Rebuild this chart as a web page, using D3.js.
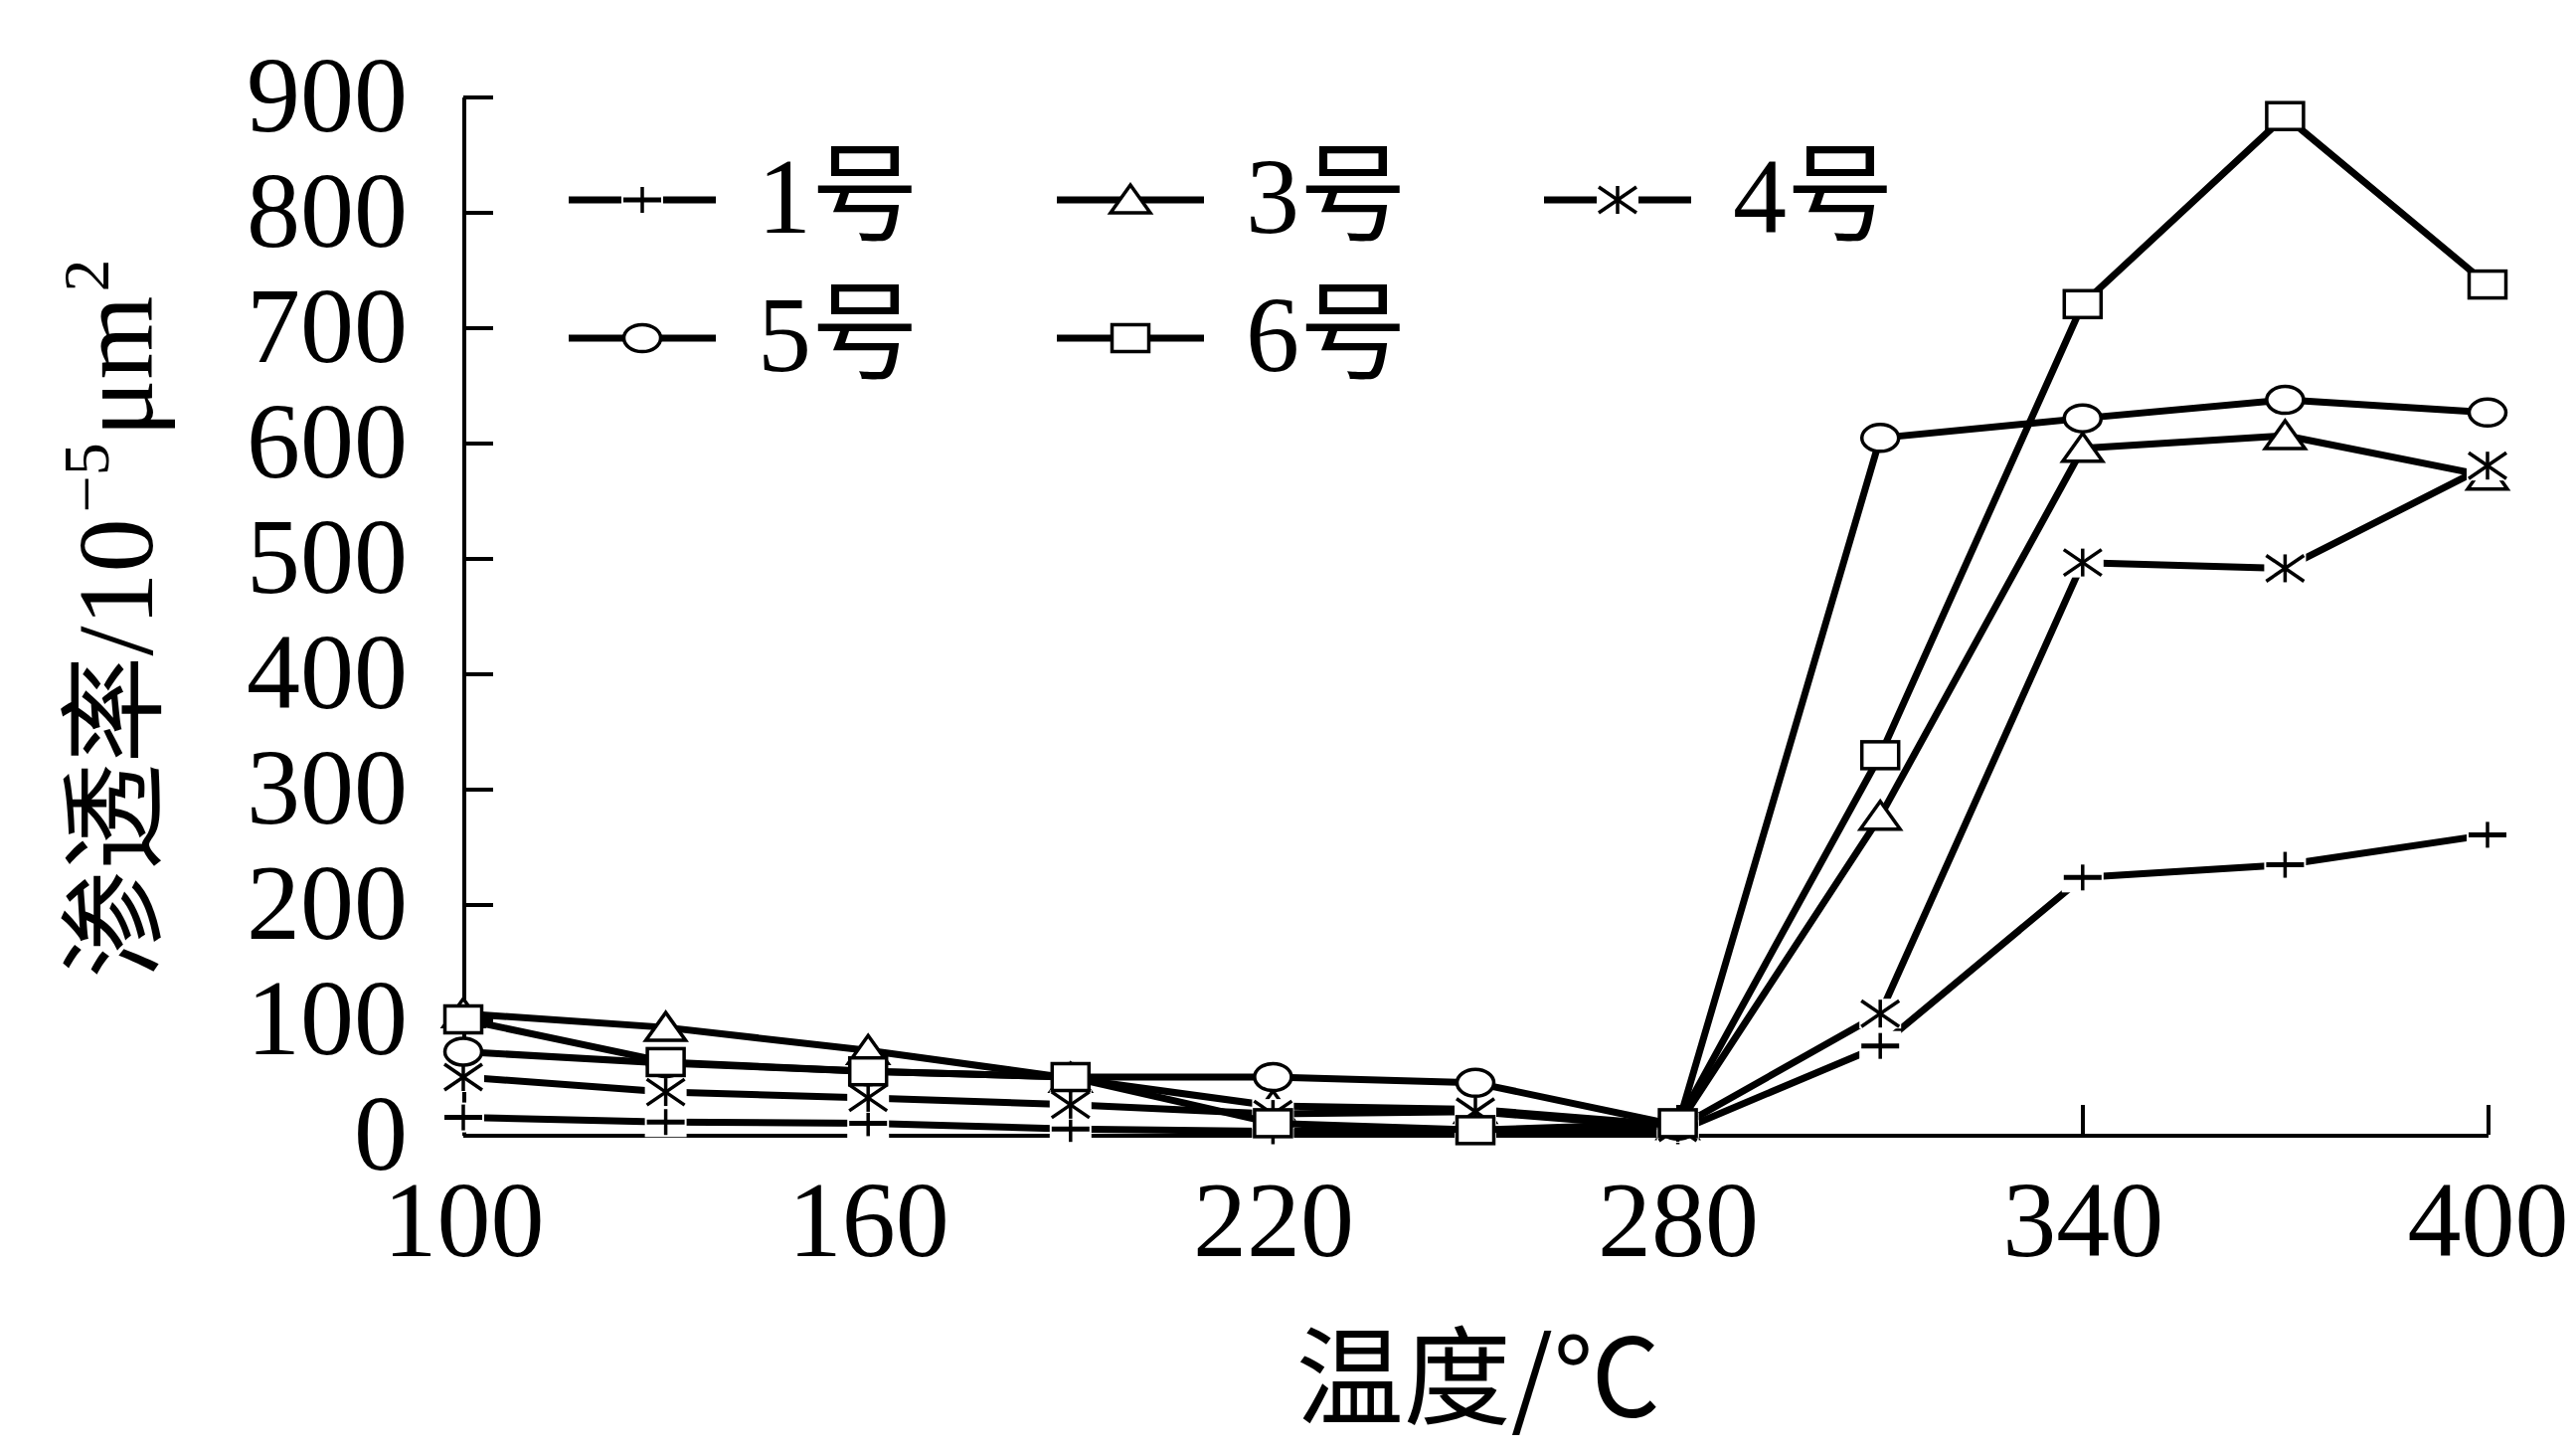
<!DOCTYPE html>
<html lang="zh">
<head>
<meta charset="utf-8">
<title>渗透率-温度</title>
<script src="https://d3js.org/d3.v7.min.js"></script>
<style>
  body { margin: 0; background: #fff; }
  svg { background: #fff; display: block; }
  .axis path, .axis line { stroke: #000; stroke-width: 4; shape-rendering: crispEdges; }
  .axis text { font-family: "Liberation Serif", "Times New Roman", serif; font-size: 108px; fill: #000; }
  .title { font-family: "Liberation Serif", "Noto Sans CJK SC", serif; font-size: 108px; fill: #000; }
  .legend text { font-family: "Liberation Serif", "Noto Sans CJK SC", serif; font-size: 108px; fill: #000; }
</style>
</head>
<body>
<div id="chart"></div>
<script>
// temperatures (℃) and permeability (10^-5 μm²) for each sample
const temps = [100, 130, 160, 190, 220, 250, 280, 310, 340, 370, 400];
const s1 = [15, 11, 10, 5, 3, 3, 3, 77, 223, 234, 260];
const s3 = [105, 93, 73, 49, 25, 22, 8, 276, 595, 606, 571];
const s4 = [50, 37, 32, 26, 18, 20, 6, 105, 496, 491, 580];
const s5 = [72, 62, 55, 50, 50, 45, 8, 604, 621, 637, 626];
const s6 = [100, 63, 55, 50, 10, 4, 10, 329, 720, 883, 737];
const names = ["1号", "3号", "4号", "5号", "6号"];
const symbols = ["plus", "triangle", "star", "circle", "square"];
const xTicks = [100, 160, 220, 280, 340, 400];
const yTicks = [0, 100, 200, 300, 400, 500, 600, 700, 800, 900];

const W = 2591, H = 1461;
const svg = d3.select("#chart").append("svg")
  .attr("width", W).attr("height", H);

const x = d3.scaleLinear().domain([100, 400]).range([466, 2502]);
const y = d3.scaleLinear().domain([0, 900]).range([1141, 97]);

// axes, ticks pointing inward
const xAxis = svg.append("g").attr("class", "axis")
  .attr("transform", "translate(0," + y(0) + ")")
  .call(d3.axisBottom(x).tickValues(xTicks).tickSizeInner(-30).tickSizeOuter(0).tickFormat(d3.format("d")));
xAxis.selectAll("text").attr("y", 122).attr("dy", 0);

const yAxis = svg.append("g").attr("class", "axis")
  .attr("transform", "translate(" + x(100) + ",0)")
  .call(d3.axisLeft(y).tickValues(yTicks).tickSizeInner(-30).tickSizeOuter(0).tickPadding(56));
yAxis.selectAll("text").attr("dy", "0.32em");

// axis titles
svg.append("text").attr("class", "title")
  .attr("x", 1487).attr("y", 1424)
  .attr("text-anchor", "middle")
  .style("font-family", "'Noto Sans CJK SC', sans-serif")
  .text("温度/℃");

const yt = svg.append("text").attr("class", "title")
  .attr("transform", "translate(153,622) rotate(-90)")
  .attr("text-anchor", "middle");
yt.append("tspan").style("font-family", "'Noto Sans CJK SC', sans-serif").text("渗透率");
yt.append("tspan").text("/10");
yt.append("tspan").attr("font-size", 66).attr("dy", -44).attr("dx", 6).text("−5");
yt.append("tspan").attr("dy", 44).attr("dx", 6).text("μm");
yt.append("tspan").attr("font-size", 66).attr("dy", -44).attr("dx", 4).text("2");

// marker drawing
function marker(g, type) {
  const sw = 3.5;
  if (type === "plus") {
    g.append("rect").attr("x", -21).attr("y", -15).attr("width", 42).attr("height", 30).attr("fill", "#fff");
    g.append("line").attr("x1", -19).attr("x2", 19).attr("stroke", "#000").attr("stroke-width", 5);
    g.append("line").attr("y1", -13).attr("y2", 13).attr("stroke", "#000").attr("stroke-width", sw);
  } else if (type === "star") {
    g.append("rect").attr("x", -21).attr("y", -15).attr("width", 42).attr("height", 30).attr("fill", "#fff");
    g.append("line").attr("x1", -19).attr("y1", -13).attr("x2", 19).attr("y2", 13).attr("stroke", "#000").attr("stroke-width", sw);
    g.append("line").attr("x1", -19).attr("y1", 13).attr("x2", 19).attr("y2", -13).attr("stroke", "#000").attr("stroke-width", sw);
    g.append("line").attr("y1", -14).attr("y2", 14).attr("stroke", "#000").attr("stroke-width", sw);
  } else if (type === "triangle") {
    g.append("path").attr("d", "M0,-15L20,13L-20,13Z")
      .attr("fill", "#fff").attr("stroke", "#000").attr("stroke-width", sw).attr("stroke-linejoin", "miter");
  } else if (type === "circle") {
    g.append("ellipse").attr("rx", 18.5).attr("ry", 13.5)
      .attr("fill", "#fff").attr("stroke", "#000").attr("stroke-width", sw);
  } else if (type === "square") {
    g.append("rect").attr("x", -18.5).attr("y", -13.5).attr("width", 37).attr("height", 27)
      .attr("fill", "#fff").attr("stroke", "#000").attr("stroke-width", sw);
  }
}

const series = [s1, s3, s4, s5, s6];
const line = d3.line().x((d, i) => x(temps[i])).y(d => y(d));

series.forEach((vals, k) => {
  const g = svg.append("g");
  g.append("path").datum(vals)
    .attr("d", line)
    .attr("fill", "none").attr("stroke", "#000").attr("stroke-width", 7)
    .attr("stroke-linejoin", "round");
  g.selectAll(".m").data(vals).enter().append("g")
    .attr("class", "m")
    .attr("transform", (d, i) => "translate(" + x(temps[i]) + "," + y(d) + ")")
    .each(function () { marker(d3.select(this), symbols[k]); });
});

// legend
const legCols = [572, 1063, 1553];
const legRows = [201, 340];
const legend = svg.append("g").attr("class", "legend");
names.forEach((n, k) => {
  const cx = legCols[k % 3], cy = legRows[Math.floor(k / 3)];
  const g = legend.append("g").attr("transform", "translate(" + cx + "," + cy + ")");
  g.append("line").attr("x1", 0).attr("x2", 148)
    .attr("stroke", "#000").attr("stroke-width", 7);
  const m = g.append("g").attr("transform", "translate(74,0)");
  marker(m, symbols[k]);
  g.append("text").attr("x", 190).attr("y", 33).text(n);
});
</script>
</body>
</html>
